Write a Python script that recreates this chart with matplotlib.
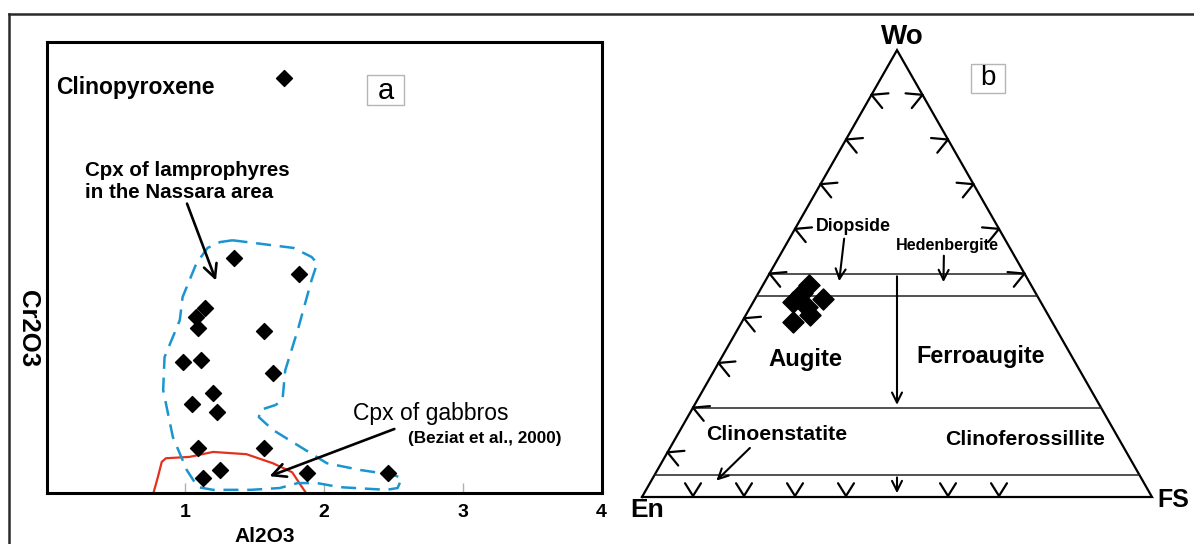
import numpy as np
import matplotlib
matplotlib.use("Agg")
import matplotlib.pyplot as plt
from matplotlib.lines import Line2D
from matplotlib.patches import Rectangle

plt.rcParams['font.family'] = ['Liberation Sans', 'DejaVu Sans']

# --- panel a: Cr2O3 vs Al2O3 (clinopyroxene, Cr2O3 axis unscaled) ---
al2o3 = [1.71, 1.35, 1.82, 1.14, 1.08, 1.09, 1.57, 0.98, 1.11, 1.63,
         1.20, 1.05, 1.23, 1.09, 1.57, 1.25, 1.13, 1.88, 2.46]
cr2o3 = [0.92, 0.52, 0.485, 0.41, 0.39, 0.365, 0.36, 0.29, 0.295, 0.265,
         0.222, 0.197, 0.18, 0.099, 0.099, 0.052, 0.033, 0.044, 0.044]

# field of lamprophyre cpx (dashed outline)
lamp_x = [1.34, 1.78, 1.91, 1.95, 1.91, 1.81, 1.72, 1.70, 1.65, 1.54, 1.53,
          1.63, 1.83, 2.02, 2.26, 2.50, 2.56, 2.53, 2.45, 2.11, 1.95, 1.81,
          1.68, 1.47, 1.20, 1.09, 1.01, 0.91, 0.84, 0.85, 0.96, 0.98, 1.08,
          1.16, 1.25, 1.34]
lamp_y = [0.560, 0.543, 0.523, 0.509, 0.472, 0.361, 0.272, 0.206, 0.195,
          0.184, 0.168, 0.140, 0.102, 0.066, 0.051, 0.040, 0.033, 0.011,
          0.007, 0.013, 0.022, 0.022, 0.011, 0.007, 0.007, 0.013, 0.051,
          0.124, 0.228, 0.301, 0.383, 0.434, 0.509, 0.543, 0.556, 0.560]

# field of gabbro cpx (Beziat et al., 2000)
gab_x = [0.77, 0.80, 0.83, 0.86, 1.03, 1.20, 1.44, 1.63, 1.77, 1.83, 1.87]
gab_y = [0.0, 0.033, 0.069, 0.077, 0.080, 0.091, 0.086, 0.066, 0.046, 0.018, 0.0]

x_ticks = [1, 2, 3, 4]

# --- panel b: Wo-En-Fs ---
wo = [47.5, 43.7, 44.2, 42.6, 39.2, 40.7, 45.6]
en = [43.6, 48.5, 42.4, 46.4, 50.7, 46.7, 45.9]
fs = [8.9, 7.8, 13.4, 11.0, 10.1, 12.6, 8.5]

left_marks = [0.1, 0.2, 0.3, 0.4, 0.5, 0.6, 0.7, 0.8, 0.9]
right_marks = [0.5, 0.6, 0.7, 0.8, 0.9]
base_marks = [0.1, 0.2, 0.3, 0.4, 0.6, 0.7]

W, H = 1194, 544
fig = plt.figure(figsize=(W / 100, H / 100), dpi=100)

# outer frame (top and left only)
fig.add_artist(Line2D([9 / W, 1.0], [1 - 13.5 / H, 1 - 13.5 / H],
                      transform=fig.transFigure, color='#2a2a2a', lw=1.8))
fig.add_artist(Line2D([9 / W, 9 / W], [0, 1 - 13.5 / H],
                      transform=fig.transFigure, color='#2a2a2a', lw=1.8))

# ---------------- panel a ----------------
ax = fig.add_axes([46.6 / W, (H - 493) / H, 555 / W, 451.3 / H])
ax.set_xlim(0, 4)
ax.set_ylim(0, 1)
for sp in ax.spines.values():
    sp.set_linewidth(2.2)
    sp.set_color('black')

ax.plot(gab_x, gab_y, color='#e2321c', lw=1.6, zorder=2)
ax.plot(lamp_x, lamp_y, color='#1b95d0', lw=1.8, dashes=(6, 3.5), zorder=2)
ax.scatter(al2o3, cr2o3, marker='D', s=66, color='black', zorder=3)

ax.set_xticks(x_ticks)
ax.set_xticklabels([str(t) for t in x_ticks], fontsize=14, fontweight='bold')
ax.tick_params(axis='x', direction='in', length=7, width=1, color='#b0b0b0', pad=8)
ax.set_yticks([])
ax.set_xlabel('Al2O3', fontsize=15, fontweight='bold')
ax.xaxis.set_label_coords(0.393, -0.075)
ax.set_ylabel('Cr2O3', fontsize=18.5, fontweight='bold', rotation=270, va='center', ha='center')
ax.yaxis.set_label_coords(-0.034, 0.365)

ax.text(0.068, 0.899, 'Clinopyroxene', fontsize=16.5, fontweight='bold', va='center', ha='left')
ax.add_patch(Rectangle((2.309, 0.859), 0.267, 0.067, fill=False, ec='#b5b5b5', lw=1))
ax.text(2.443, 0.89, 'a', fontsize=21, ha='center', va='center')

ax.text(0.277, 0.69, 'Cpx of lamprophyres\nin the Nassara area', fontsize=14.8,
        fontweight='bold', ha='left', va='center', linespacing=1.2)
ax.annotate('', xy=(1.228, 0.465), xytext=(1.005, 0.647),
            arrowprops=dict(arrowstyle='->', lw=1.9, color='black', mutation_scale=24))

ax.text(2.208, 0.177, 'Cpx of gabbros', fontsize=16.5, ha='left', va='center')
ax.text(2.605, 0.120, '(Beziat et al., 2000)', fontsize=12.3, fontweight='bold',
        ha='left', va='center')
ax.annotate('', xy=(1.588, 0.035), xytext=(2.525, 0.144),
            arrowprops=dict(arrowstyle='->', lw=1.9, color='black', mutation_scale=24))

# ---------------- panel b ----------------
h = np.sqrt(3) / 2
SX, SY = 510.0, 516.0  # pixels per data unit in the ternary axes
tx = fig.add_axes([620 / W, 0, 574 / W, 1])
tx.set_xlim((620 - 642) / SX, (1194 - 642) / SX)
tx.set_ylim(-(544 - 497) / SY, 497 / SY)
tx.axis('off')


def tern(w, e, f):
    s = np.asarray(w) + np.asarray(e) + np.asarray(f)
    w = np.asarray(w) / s
    f = np.asarray(f) / s
    return f + w / 2, w * h


def chevron(x, y, ang, size=17, half=28):
    for sgn in (1, -1):
        a = np.radians(ang + 180 + sgn * half)
        tx.plot([x, x + size * np.cos(a) / SX], [y, y + size * np.sin(a) / SY],
                color='black', lw=1.6, solid_capstyle='round')


tx.plot([0, 1, 0.5, 0], [0, 0, h, 0], color='black', lw=1.6, solid_joinstyle='miter')
for w_line in (0.5, 0.45, 0.2, 0.05):
    tx.plot([w_line / 2, 1 - w_line / 2], [w_line * h, w_line * h], color='#222222', lw=1.1)

for w_m in left_marks:
    chevron(w_m / 2, w_m * h, 157)
for w_m in right_marks:
    chevron(1 - w_m / 2, w_m * h, 23)
for f_m in base_marks:
    chevron(f_m, 0.002, 270, size=15, half=32)

arrow = dict(arrowstyle='->', lw=1.5, color='black', mutation_scale=18)
tx.annotate('', xy=(0.5, 0.2 * h), xytext=(0.5, 0.5 * h), arrowprops=arrow)
tx.annotate('', xy=(0.5, 0.002), xytext=(0.5, 0.05 * h), arrowprops=arrow)
tx.annotate('', xy=(0.386, 0.413), xytext=(0.397, 0.506), arrowprops=arrow)
tx.annotate('', xy=(0.591, 0.411), xytext=(0.592, 0.473), arrowprops=arrow)
tx.annotate('', xy=(0.142, 0.028), xytext=(0.2155, 0.0988), arrowprops=arrow)

px, py = tern(wo, en, fs)
tx.scatter(px, py, marker='D', s=115, color='black', zorder=3)

tx.text(0.511, 0.892, 'Wo', fontsize=20, fontweight='bold', ha='center', va='center')
tx.text(0.011, -0.026, 'En', fontsize=19, fontweight='bold', ha='center', va='center')
tx.text(1.041, -0.006, 'FS', fontsize=18, fontweight='bold', ha='center', va='center')
tx.add_patch(Rectangle((0.646, 0.7835), 0.065, 0.0565, fill=False, ec='#b5b5b5', lw=1))
tx.text(0.678, 0.812, 'b', fontsize=20, ha='center', va='center')

tx.text(0.414, 0.524, 'Diopside', fontsize=12.8, fontweight='bold', ha='center', va='center')
tx.text(0.598, 0.488, 'Hedenbergite', fontsize=11.6, fontweight='bold', ha='center', va='center')
tx.text(0.321, 0.267, 'Augite', fontsize=17.2, fontweight='bold', ha='center', va='center')
tx.text(0.664, 0.273, 'Ferroaugite', fontsize=16.8, fontweight='bold', ha='center', va='center')
tx.text(0.264, 0.122, 'Clinoenstatite', fontsize=15.3, fontweight='bold', ha='center', va='center')
tx.text(0.751, 0.112, 'Clinoferossillite', fontsize=15.3, fontweight='bold', ha='center', va='center')

fig.savefig('out.png', dpi=100)
